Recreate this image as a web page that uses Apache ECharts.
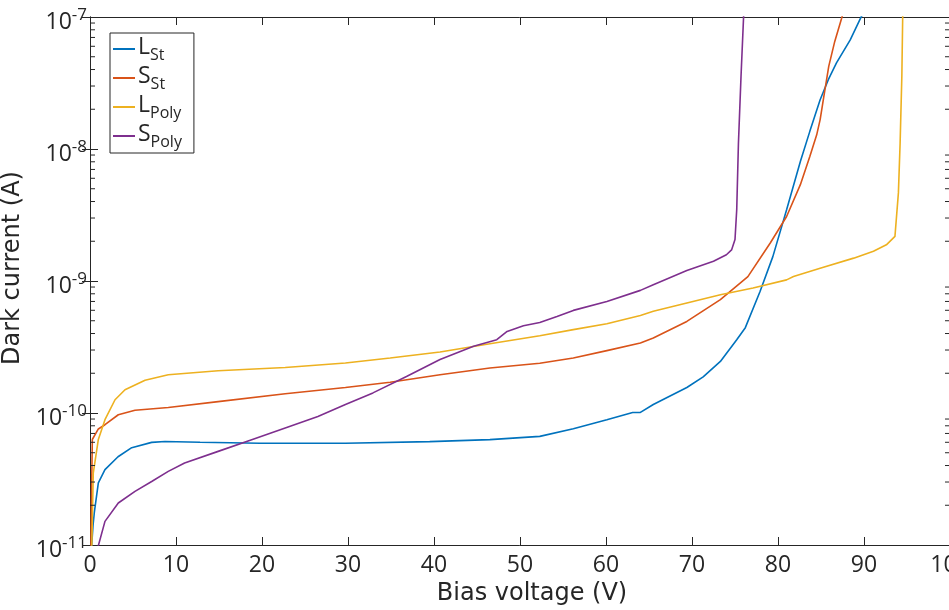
<!DOCTYPE html>
<html><head><meta charset="utf-8">
<script src="https://cdn.jsdelivr.net/npm/echarts@6/dist/echarts.min.js"></script>
<style>html,body{margin:0;padding:0;background:#fff}#c{width:949px;height:610px}</style>
</head><body><div id="c"></div>
<script>
const xTicks = [0,10,20,30,40,50,60,70,80,90,100];
const yMin = 1e-11, yMax = 1e-7;
const minorTickValues = [2e-11,3e-11,4e-11,5e-11,6e-11,7e-11,8e-11,9e-11,
  2e-10,3e-10,4e-10,5e-10,6e-10,7e-10,8e-10,9e-10,
  2e-9,3e-9,4e-9,5e-9,6e-9,7e-9,8e-9,9e-9,
  2e-8,3e-8,4e-8,5e-8,6e-8,7e-8,8e-8,9e-8];

const seriesNames = ['L_St','S_St','L_Poly','S_Poly'];
const seriesColors = ['#0072BD','#D95319','#EDB120','#7E2F8E'];

const vL_St = [0.15,0.35,0.5,0.97,1.74,3.26,4.85,7.17,8.72,12.8,19.8,29.7,39.5,46.5,52.3,56.2,60.1,63.1,64.0,65.5,69.4,71.3,73.3,75.2,76.2,77.9,79.4,81.0,82.6,83.7,84.9,85.85,86.8,88.4,89.7,90.3];
const iL_St = [9e-12,1.4e-11,1.76e-11,2.96e-11,3.72e-11,4.66e-11,5.46e-11,5.99e-11,6.09e-11,6.0e-11,5.9e-11,5.9e-11,6.07e-11,6.28e-11,6.65e-11,7.6e-11,8.9e-11,1.01e-10,1.01e-10,1.16e-10,1.56e-10,1.88e-10,2.46e-10,3.59e-10,4.43e-10,8.3e-10,1.53e-9,3.47e-9,8.05e-9,1.36e-8,2.36e-8,3.35e-8,4.49e-8,6.7e-8,1.01e-7,1.15e-7];

const vS_St = [0.1,0.2,0.27,0.97,1.74,3.29,5.23,9.1,14.9,22.7,29.7,34.9,40.7,46.5,52.3,56.2,60.1,64.0,65.5,69.4,73.3,76.5,79.1,81.0,82.6,83.7,84.5,84.9,85.3,85.9,86.6,87.4,87.7];
const iS_St = [9e-12,3e-11,6.3e-11,7.57e-11,8.15e-11,9.7e-11,1.05e-10,1.10e-10,1.22e-10,1.40e-10,1.56e-10,1.71e-10,1.95e-10,2.19e-10,2.38e-10,2.61e-10,2.97e-10,3.39e-10,3.70e-10,4.94e-10,7.22e-10,1.08e-9,1.94e-9,3.08e-9,5.37e-9,8.79e-9,1.28e-8,1.67e-8,2.43e-8,4.23e-8,6.53e-8,9.8e-8,1.15e-7];

const vL_Poly = [0.2,0.38,0.97,1.74,2.91,4.07,6.4,9.1,14.9,22.7,29.7,34.9,40.7,46.5,52.3,56.2,60.1,64.0,65.5,69.4,73.3,77.1,81.0,81.8,84.9,88.8,91.1,92.6,93.6,94.0,94.2,94.4,94.5,94.55];
const iL_Poly = [9e-12,3.5e-11,6.3e-11,8.9e-11,1.26e-10,1.50e-10,1.77e-10,1.95e-10,2.09e-10,2.21e-10,2.39e-10,2.61e-10,2.90e-10,3.35e-10,3.85e-10,4.28e-10,4.75e-10,5.48e-10,5.89e-10,6.81e-10,7.87e-10,8.85e-10,1.02e-9,1.08e-9,1.25e-9,1.49e-9,1.68e-9,1.88e-9,2.18e-9,4.65e-9,1.11e-8,3.55e-8,1.01e-7,1.15e-7];

const vS_Poly = [0.8,1.74,3.29,5.23,7.17,9.1,11.0,14.9,18.8,22.7,26.5,29.7,32.9,36.8,40.7,44.6,47.3,48.5,50.4,52.3,54.3,56.2,60.1,64.0,65.5,69.4,72.5,74.0,74.6,75.0,75.2,75.4,75.7,76.0,76.05];
const iS_Poly = [9e-12,1.51e-11,2.08e-11,2.55e-11,3.03e-11,3.61e-11,4.18e-11,5.12e-11,6.28e-11,7.7e-11,9.42e-11,1.16e-10,1.42e-10,1.89e-10,2.54e-10,3.20e-10,3.59e-10,4.15e-10,4.58e-10,4.85e-10,5.39e-10,5.99e-10,7.0e-10,8.49e-10,9.37e-10,1.20e-9,1.41e-9,1.58e-9,1.72e-9,2.06e-9,3.47e-9,1.11e-8,3.55e-8,1.01e-7,1.15e-7];

const legendLabels = {
  'L_St': '{n|L}{s|St}', 'S_St': '{n|S}{s|St}',
  'L_Poly': '{n|L}{s|Poly}', 'S_Poly': '{n|S}{s|Poly}'
};

const TXT = '#262626';
const FONT = 'Open Sans';
const NAMEFONT = 'DejaVu Sans';
const pairs = (v, i) => v.map((x, k) => [x, i[k]]);
const allV = [vL_St, vS_St, vL_Poly, vS_Poly];
const allI = [iL_St, iS_St, iL_Poly, iS_Poly];

const chart = echarts.init(document.getElementById('c'));
const lineSeries = seriesNames.map((n, k) => ({
  name: n, type: 'line', data: pairs(allV[k], allI[k]),
  symbol: 'none', showSymbol: false, clip: true,
  lineStyle: {color: seriesColors[k], width: 1.6},
  itemStyle: {color: seriesColors[k]}, z: 3
}));

const tickSeries = {
  type: 'custom', silent: true, clip: false, z: 5,
  data: minorTickValues.map(v => [0, v]),
  renderItem: (params, api) => {
    const v = api.value(1);
    const l = api.coord([0, v]);
    const r = api.coord([100, v]);
    return {type: 'group', children: [
      {type: 'line', shape: {x1: l[0], y1: l[1], x2: l[0] + 5, y2: l[1]}, style: {stroke: TXT, lineWidth: 1}},
      {type: 'line', shape: {x1: r[0] - 5, y1: r[1], x2: r[0], y2: r[1]}, style: {stroke: TXT, lineWidth: 1}}
    ]};
  }
};

const axisLine = {show: true, lineStyle: {color: TXT, width: 1}};
const tick = {show: true, inside: true, length: 8, lineStyle: {color: TXT, width: 1}};

chart.setOption({
  animation: false,
  backgroundColor: '#fff',
  grid: {left: 90, top: 17, width: 860, height: 528, containLabel: false, outerBoundsMode: 'none'},
  legend: {
    data: seriesNames, orient: 'vertical', left: 110, top: 33,
    backgroundColor: '#fff', borderColor: TXT, borderWidth: 1, borderRadius: 0,
    padding: [3, 12, 3, 3], itemGap: 2, itemWidth: 22, itemHeight: 2, icon: 'rect',
    formatter: n => legendLabels[n],
    textStyle: {color: TXT, fontFamily: FONT, padding: [0,0,0,-2],
      rich: {
        n: {fontSize: 23, fontFamily: FONT, color: TXT, lineHeight: 26, verticalAlign: 'top'},
        s: {fontSize: 16, fontFamily: FONT, color: TXT, lineHeight: 16, verticalAlign: 'top', padding: [11,0,0,0]}
      }}
  },
  xAxis: [{
    type: 'value', min: 0, max: 100, interval: 10, position: 'bottom',
    axisLine, axisTick: tick, splitLine: {show: false},
    axisLabel: {color: TXT, fontFamily: FONT, fontSize: 23, margin: 9},
    name: 'Bias voltage (V)', nameLocation: 'middle', nameGap: 36,
    nameTextStyle: {color: TXT, fontFamily: NAMEFONT, fontSize: 24, padding: [0,0,0,24]}
  }, {
    type: 'value', min: 0, max: 100, interval: 10, position: 'top',
    axisLine, axisTick: tick, splitLine: {show: false}, axisLabel: {show: false}
  }],
  yAxis: [{
    type: 'log', logBase: 10, min: yMin, max: yMax, interval: 1, position: 'left',
    axisLine, axisTick: tick, splitLine: {show: false}, minorTick: {show: false},
    axisLabel: {
      margin: 3, color: TXT, fontFamily: FONT, padding: [10,0,0,0],
      formatter: v => '{b|10}{e|' + Math.round(Math.log10(v)) + '}',
      rich: {
        b: {fontSize: 23, fontFamily: FONT, color: TXT, lineHeight: 23, verticalAlign: 'bottom'},
        e: {fontSize: 17, fontFamily: FONT, color: TXT, lineHeight: 17, verticalAlign: 'bottom', padding: [0,0,10,0]}
      }
    },
    name: 'Dark current (A)', nameLocation: 'middle', nameGap: 63, nameRotate: 90,
    nameTextStyle: {color: TXT, fontFamily: NAMEFONT, fontSize: 24, padding: [0,0,0,26]}
  }, {
    type: 'log', logBase: 10, min: yMin, max: yMax, interval: 1, position: 'right',
    axisLine, axisTick: tick, splitLine: {show: false}, axisLabel: {show: false}
  }],
  series: [...lineSeries, tickSeries]
});
</script>
</body></html>
